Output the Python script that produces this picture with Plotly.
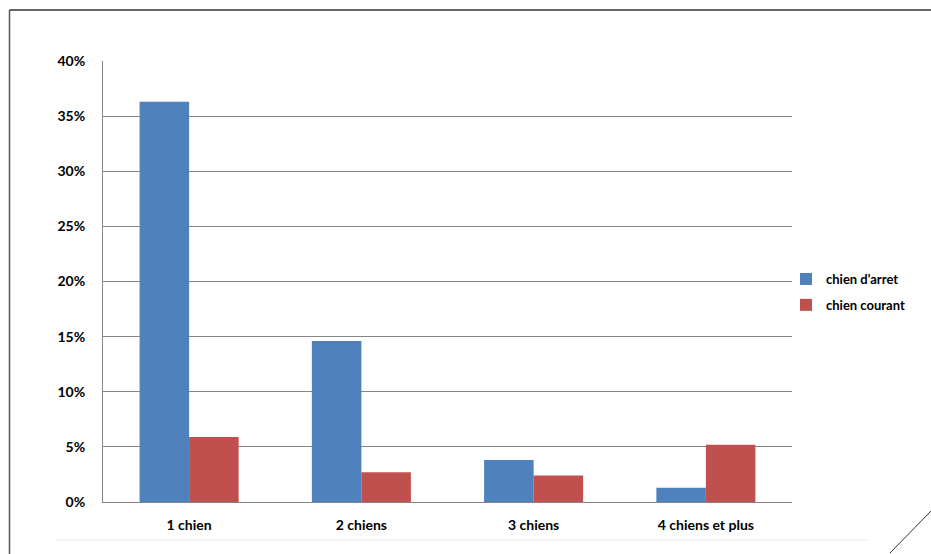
import plotly.graph_objects as go

categories = ["1 chien", "2 chiens", "3 chiens", "4 chiens et plus"]
chien_arret = [0.363, 0.146, 0.038, 0.013]
chien_courant = [0.059, 0.027, 0.024, 0.052]
series_names = ["chien d'arret", "chien courant"]
colors = ["#4F81BD", "#C0504D"]

FONT = "Lato"
W, H = 931, 554
L, R, T, B = 103, 792, 61, 502

def px(x):
    return (x - L) / (R - L)

def py(y):
    return (B - y) / (B - T)

fig = go.Figure()
for i, (name, vals, c) in enumerate(zip(series_names, [chien_arret, chien_courant], colors)):
    fig.add_trace(go.Bar(x=categories, y=vals, name=name, legendgroup=f"g{i}",
                         marker=dict(color=c, line=dict(width=0))))

shapes = [
    dict(type="line", xref="paper", yref="paper", x0=px(9.5), x1=px(931), y0=py(10), y1=py(10),
         line=dict(color="#666666", width=2)),
    dict(type="line", xref="paper", yref="paper", x0=px(9.5), x1=px(9.5), y0=py(10), y1=py(554),
         line=dict(color="#555555", width=1.5)),
    dict(type="line", xref="paper", yref="paper", x0=px(55), x1=px(870), y0=py(540), y1=py(540),
         line=dict(color="#EEEEEE", width=1)),
    dict(type="line", xref="paper", yref="paper", x0=px(890), x1=px(931), y0=py(553), y1=py(511),
         line=dict(color="#333333", width=1)),
]

fig.update_layout(
    width=W, height=H,
    margin=dict(l=L, r=W - R, t=T, b=H - B, pad=0),
    paper_bgcolor="white", plot_bgcolor="white",
    barmode="group", bargap=0.425, bargroupgap=0,
    font=dict(family=FONT, size=14, color="#000000"),
    showlegend=True,
    legend=dict(x=px(786), xanchor="left", y=py(292), yanchor="middle",
                font=dict(family=FONT, size=13, color="#000000", weight="bold"),
                tracegroupgap=6, itemwidth=30, bgcolor="rgba(0,0,0,0)"),
    shapes=shapes,
)
fig.update_yaxes(range=[0, 0.4], dtick=0.05, tickformat=".0%", showgrid=True,
                 gridcolor="#868686", gridwidth=1, showline=True, linecolor="#868686",
                 linewidth=1, zeroline=False, ticks="", ticklabelstandoff=14,
                 tickfont=dict(family=FONT, size=14, color="#000000", weight="bold"))
fig.update_xaxes(showline=True, linecolor="#868686", linewidth=1, ticks="",
                 ticklabelstandoff=10,
                 tickfont=dict(family=FONT, size=14, color="#000000", weight="bold"))

fig.write_html("out.html")
